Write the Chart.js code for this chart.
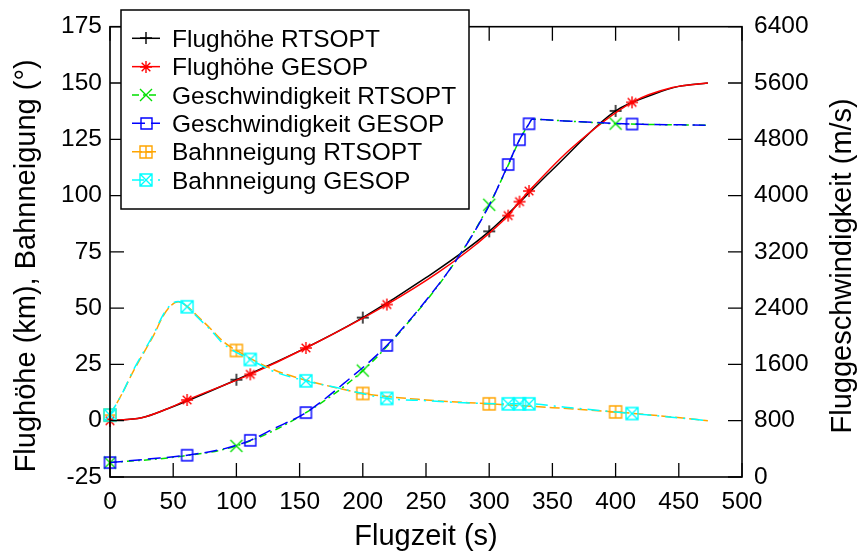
<!DOCTYPE html>
<html>
<head>
<meta charset="utf-8">
<script src="https://cdn.jsdelivr.net/npm/chart.js@4.4.1/dist/chart.umd.min.js"></script>
<style>
  html, body { margin: 0; padding: 0; background: #fff; }
  #wrap { width: 858px; height: 556px; }
</style>
</head>
<body>
<div id="wrap"><canvas id="c" width="858" height="556"></canvas></div>
<script>
// ---- data: flight time (s) and trajectory values ----
// Flughöhe (km)
const tAltRT   = [0, 25, 45, 100, 150, 200, 250, 300, 350, 400, 430, 450, 473];
const altRT    = [0, 1.3, 5.2, 18.2, 31, 45.8, 63.5, 84.1, 111.5, 137.6, 145, 148.5, 150];
const markAltRT = [0, 100, 200, 300, 400];

const tAltGE   = [0, 25, 45, 61, 111, 155, 219, 260, 290, 315, 324, 331.5, 365, 413, 445, 473];
const altGE    = [0, 1.3, 5.2, 9.2, 20.6, 32.3, 51.6, 66, 78.5, 91.1, 97.3, 102, 121, 141.4, 148, 150];
const markAltGE = [0, 61, 111, 155, 219, 315, 324, 331.5, 413];

// Geschwindigkeit (m/s)
const tVelRT   = [0, 50, 100, 150, 200, 250, 275, 300, 315, 324, 331.5, 334, 360, 400, 473];
const velRT    = [205, 280, 442, 860, 1512, 2500, 3110, 3869, 4430, 4790, 5020, 5085, 5060, 5022, 5000];
const markVelRT = [0, 100, 200, 300, 400];

const tVelGE   = [0, 30, 61, 90, 111, 130, 155, 185, 219, 245, 275, 300, 315, 324, 331.5, 334, 360, 413, 473];
const velGE    = [205, 255, 310, 400, 521, 690, 915, 1330, 1870, 2400, 3110, 3860, 4441, 4794, 5020, 5085, 5060, 5017, 5000];
const markVelGE = [0, 61, 111, 155, 219, 315, 324, 331.5, 413];

// Bahnneigung (°)
const tGamRT   = [0, 10, 18.5, 26, 35, 42, 48, 54, 61, 70, 79, 90, 100, 130, 155, 180, 200, 250, 300, 350, 400, 440, 473];
const gamRT    = [2.5, 12.5, 22, 29.5, 38.5, 46.5, 51, 52.8, 50.8, 46, 41.2, 35, 31.2, 22.5, 18, 14.5, 12.1, 9.2, 7.5, 5.8, 3.9, 1.9, 0];
const markGamRT = [0, 100, 200, 300, 400];

const tGamGE   = [0, 10, 18.5, 26, 35, 42, 48, 54, 61, 70, 79, 90, 111, 130, 155, 180, 219, 250, 280, 315, 324, 331.5, 360, 413, 440, 473];
const gamGE    = [2.5, 12.5, 22.5, 30, 39, 47, 51.5, 53, 50.6, 45.5, 40.7, 34, 27.2, 21.8, 17.7, 14.6, 9.9, 8.9, 8, 7.5, 7.5, 7.5, 6, 3.2, 1.8, 0];
const markGamGE = [0, 61, 111, 155, 219, 315, 324, 331.5, 413];

// axis ranges and ticks
const xTicks  = { min: 0, max: 500, step: 50 };
const yTicks  = { min: -25, max: 175, step: 25 };
const y2Ticks = { min: 0, max: 6400, step: 800 };

const FONT = '"Liberation Sans", Arial, Helvetica, sans-serif';
const TITLE_SIZE = 29;
const yTitle  = 'Flughöhe (km), Bahnneigung (°)';
const y2Title = 'Fluggeschwindigkeit (m/s)';

// ---- marker glyphs (gnuplot-like point types) ----
function glyph(kind, color, size) {
  const s = size + 4;
  const c = document.createElement('canvas');
  c.width = s; c.height = s;
  const g = c.getContext('2d');
  g.strokeStyle = color;
  g.lineWidth = 1.4;
  const m = s / 2, h = size / 2;
  g.beginPath();
  if (kind === 'box' || kind === 'boxplus' || kind === 'boxx') g.rect(m - h, m - h, size, size);
  if (kind === 'plus' || kind === 'boxplus' || kind === 'star') {
    g.moveTo(m - h, m); g.lineTo(m + h, m);
    g.moveTo(m, m - h); g.lineTo(m, m + h);
  }
  if (kind === 'x' || kind === 'boxx' || kind === 'star') {
    const d = kind === 'star' ? h * 0.72 : h;
    g.moveTo(m - d, m - d); g.lineTo(m + d, m + d);
    g.moveTo(m - d, m + d); g.lineTo(m + d, m - d);
  }
  g.stroke();
  return c;
}

function pts(ts, vs) { return ts.map((t, i) => ({ x: t, y: vs[i] })); }
function radii(ts, marks) { return ts.map(t => marks.includes(t) ? 6 : 0); }

const series = [
  { label: 'Flughöhe RTSOPT',        t: tAltRT, v: altRT, marks: markAltRT, axis: 'y',  color: '#000000', kind: 'plus',    dash: [],             order: 6 },
  { label: 'Flughöhe GESOP',         t: tAltGE, v: altGE, marks: markAltGE, axis: 'y',  color: '#ff0000', kind: 'star',    dash: [],             order: 5 },
  { label: 'Geschwindigkeit RTSOPT', t: tVelRT, v: velRT, marks: markVelRT, axis: 'y2', color: '#00e000', kind: 'x',       dash: [7, 4, 2, 4],   order: 4 },
  { label: 'Geschwindigkeit GESOP',  t: tVelGE, v: velGE, marks: markVelGE, axis: 'y2', color: '#0000ff', kind: 'box',     dash: [13, 6],        order: 3 },
  { label: 'Bahnneigung RTSOPT',     t: tGamRT, v: gamRT, marks: markGamRT, axis: 'y',  color: '#ffa500', kind: 'boxplus', dash: [10, 4],        order: 2 },
  { label: 'Bahnneigung GESOP',      t: tGamGE, v: gamGE, marks: markGamGE, axis: 'y',  color: '#00ffff', kind: 'boxx',    dash: [12, 6, 2, 6],  order: 1 }
];

const sizes = { plus: 12, star: 12, x: 12, box: 11, boxplus: 12, boxx: 12 };

const datasets = series.map(s => {
  const img = glyph(s.kind, s.color, sizes[s.kind]);
  return {
    label: s.label,
    data: pts(s.t, s.v),
    yAxisID: s.axis,
    borderColor: s.color,
    borderWidth: 1.5,
    borderDash: s.dash,
    cubicInterpolationMode: 'monotone',
    fill: false,
    pointStyle: img,
    pointRadius: radii(s.t, s.marks),
    pointHoverRadius: 0,
    clip: false,
    order: s.order,
    _glyph: img
  };
});

// inward tick marks and the plot frame
const frameTicks = {
  id: 'frameTicks',
  afterDatasetsDraw(chart) {
    const { ctx, chartArea: a, scales } = chart;
    const L = 14;
    ctx.save();
    ctx.strokeStyle = '#000';
    ctx.lineWidth = 1.3;
    ctx.beginPath();
    scales.x.ticks.forEach(t => {
      const px = scales.x.getPixelForValue(t.value);
      ctx.moveTo(px, a.bottom); ctx.lineTo(px, a.bottom - L);
      ctx.moveTo(px, a.top); ctx.lineTo(px, a.top + L);
    });
    scales.y.ticks.forEach(t => {
      const py = scales.y.getPixelForValue(t.value);
      ctx.moveTo(a.left, py); ctx.lineTo(a.left + L, py);
    });
    scales.y2.ticks.forEach(t => {
      const py = scales.y2.getPixelForValue(t.value);
      ctx.moveTo(a.right, py); ctx.lineTo(a.right - L, py);
    });
    ctx.stroke();
    ctx.lineWidth = 1.6;
    ctx.strokeRect(a.left, a.top, a.right - a.left, a.bottom - a.top);
    ctx.restore();
  }
};

// vertical axis titles, both reading bottom-to-top
function sideTitle(ctx, text, x, y) {
  ctx.save();
  ctx.font = TITLE_SIZE + 'px ' + FONT;
  ctx.translate(x, y);
  ctx.rotate(-Math.PI / 2);
  ctx.textAlign = 'center';
  ctx.textBaseline = 'middle';
  ctx.fillStyle = '#000';
  ctx.fillText(text, 0, 0);
  ctx.restore();
}

// key box and axis titles
const keyBox = {
  id: 'keyBox',
  afterDraw(chart) {
    const { ctx, chartArea: a } = chart;
    const x0 = a.left + 11, y0 = 10, w = 348, h = 199;
    ctx.save();
    ctx.fillStyle = '#fff';
    ctx.fillRect(x0, y0, w, h);
    ctx.strokeStyle = '#000';
    ctx.lineWidth = 1.5;
    ctx.strokeRect(x0, y0, w, h);
    ctx.font = '24.5px ' + FONT;
    ctx.textBaseline = 'alphabetic';
    ctx.textAlign = 'left';
    chart.data.datasets.forEach((ds, i) => {
      const cy = 38.3 + i * 28.35;
      ctx.save();
      ctx.strokeStyle = ds.borderColor;
      ctx.lineWidth = 1.5;
      ctx.setLineDash(ds.borderDash);
      ctx.beginPath();
      ctx.moveTo(x0 + 11, cy); ctx.lineTo(x0 + 39, cy);
      ctx.stroke();
      ctx.restore();
      const g = ds._glyph;
      ctx.drawImage(g, Math.round(x0 + 25 - g.width / 2), Math.round(cy - g.height / 2));
      ctx.fillStyle = '#000';
      ctx.fillText(ds.label, x0 + 51, cy + 8.5);
    });
    ctx.restore();
    const midY = (a.top + a.bottom) / 2 + 14;
    sideTitle(ctx, yTitle, 27, midY);
    sideTitle(ctx, y2Title, 843, midY);
  }
};

const tickFont = { family: FONT, size: 24.5 };
const titleFont = { family: FONT, size: TITLE_SIZE };
const num = v => String(v);

new Chart(document.getElementById('c'), {
  type: 'line',
  data: { datasets },
  plugins: [frameTicks, keyBox],
  options: {
    responsive: false,
    animation: false,
    devicePixelRatio: 1,
    events: [],
    layout: { padding: { top: 18.5, left: 0, right: 0, bottom: 0 } },
    plugins: { legend: { display: false }, tooltip: { enabled: false } },
    scales: {
      x: {
        type: 'linear',
        min: xTicks.min, max: xTicks.max,
        grid: { display: false, drawTicks: false },
        border: { display: false },
        ticks: { stepSize: xTicks.step, font: tickFont, color: '#000', padding: 11, autoSkip: false, maxRotation: 0, callback: num },
        title: { display: true, text: 'Flugzeit (s)', font: titleFont, color: '#000', padding: { top: 0, bottom: 2 } },
        afterFit(s) { s.height = 79; }
      },
      y: {
        type: 'linear', position: 'left',
        min: yTicks.min, max: yTicks.max,
        grid: { display: false, drawTicks: false },
        border: { display: false },
        ticks: { stepSize: yTicks.step, font: tickFont, color: '#000', padding: 8, autoSkip: false, callback: num },
        afterFit(s) { s.width = 110; }
      },
      y2: {
        type: 'linear', position: 'right',
        min: y2Ticks.min, max: y2Ticks.max,
        grid: { display: false, drawTicks: false },
        border: { display: false },
        ticks: { stepSize: y2Ticks.step, font: tickFont, color: '#000', padding: 12, autoSkip: false, callback: num },
        afterFit(s) { s.width = 116; }
      }
    }
  }
});
</script>
</body>
</html>
